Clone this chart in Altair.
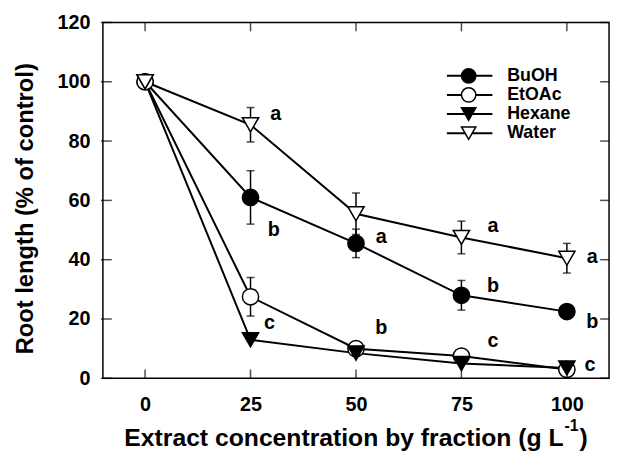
import altair as alt
import pandas as pd

# ---- data ----
conc = [0, 25, 50, 75, 100]
series_names = ["BuOH", "EtOAc", "Hexane", "Water"]
buoh = [100, 61, 45.5, 28, 22.5]
buoh_err = [0, 9, 4.8, 5, 0]
etoac = [100, 27.5, 10, 7.5, 3]
etoac_err = [0, 6.5, 0, 0, 0]
hexane = [100, 13, 8.5, 5, 3.5]
hexane_err = [0, 0, 0, 0, 0]
water = [100, 85.5, 55.5, 47.5, 40.5]
water_err = [0, 5.8, 7, 5.5, 5]

letter_text = ["a", "b", "c", "a", "b", "a", "b", "c", "a", "b", "c"]
letter_x = [31, 30.5, 29.5, 56, 56, 82.5, 82.5, 82.5, 106, 106, 105.5]
letter_y = [89, 50, 18.5, 47.5, 17, 51.5, 31, 12.5, 41, 19, 4.5]

y_ticks = [0, 20, 40, 60, 80, 100, 120]

# ---- build tables ----
rows = []
for name, vals, errs in zip(series_names, [buoh, etoac, hexane, water],
                            [buoh_err, etoac_err, hexane_err, water_err]):
    for c, v, e in zip(conc, vals, errs):
        rows.append(dict(series=name, conc=c, value=v, lo=v - e, hi=v + e, err=e))
df = pd.DataFrame(rows)
err_df = df[df.err > 0]
let_df = pd.DataFrame(dict(t=letter_text, x=letter_x, y=letter_y))

W, H = 512, 360
FONT = "Liberation Sans"

xscale = alt.Scale(domain=[-10, 110], nice=False, zero=False)
yscale = alt.Scale(domain=[0, 120], nice=False, zero=False)
shape_scale = alt.Scale(domain=series_names,
                        range=["circle", "circle", "triangle-down", "triangle-down"])
fill_scale = alt.Scale(domain=series_names, range=["black", "white", "black", "white"])

xaxis = alt.Axis(values=conc, title=None, labelPadding=17)
yaxis = alt.Axis(values=y_ticks, title="Root length (% of control)",
                 offset=7, labelPadding=6, titleX=-59, titleY=H / 2 + 8)


def X(field):
    return alt.X(field, scale=xscale, axis=xaxis)


def Y(field):
    return alt.Y(field, scale=yscale, axis=yaxis)


lines = alt.Chart(df).mark_line(color="black", strokeWidth=2).encode(
    x=X("conc:Q"), y=Y("value:Q"), detail="series:N")

err_rule = alt.Chart(err_df).mark_rule(color="black", strokeWidth=1.5).encode(
    x=X("conc:Q"), y=Y("lo:Q"), y2="hi:Q")
cap_hi = alt.Chart(err_df).mark_tick(orient="horizontal", size=8, thickness=1.5,
                                     color="black").encode(
    x=X("conc:Q"), y=Y("hi:Q"))
cap_lo = alt.Chart(err_df).mark_tick(orient="horizontal", size=8, thickness=1.5,
                                     color="black").encode(
    x=X("conc:Q"), y=Y("lo:Q"))

pts = alt.Chart(df).mark_point(filled=True, stroke="black", strokeWidth=1.5,
                               opacity=1, size=270).encode(
    x=X("conc:Q"), y=Y("value:Q"),
    shape=alt.Shape("series:N", scale=shape_scale, legend=None),
    fill=alt.Fill("series:N", scale=fill_scale, legend=None))

letters = alt.Chart(let_df).mark_text(font=FONT, fontWeight="bold", fontSize=20,
                                      color="black", baseline="middle",
                                      align="center").encode(
    x=X("x:Q"), y=Y("y:Q"), text="t:N")

# inward ticks on all four sides
xt = pd.DataFrame(dict(v=conc))
yt = pd.DataFrame(dict(v=y_ticks))
tick_b = alt.Chart(xt).mark_tick(orient="vertical", size=9, thickness=1.5,
                                 color="black").encode(
    x=X("v:Q"), y=alt.value(H - 4.5))
tick_t = alt.Chart(xt).mark_tick(orient="vertical", size=9, thickness=1.5,
                                 color="black").encode(
    x=X("v:Q"), y=alt.value(4.5))
tick_l = alt.Chart(yt).mark_tick(orient="horizontal", size=11, thickness=1.5,
                                 color="black").encode(
    y=Y("v:Q"), x=alt.value(3.5))
tick_r = alt.Chart(yt).mark_tick(orient="horizontal", size=9, thickness=1.5,
                                 color="black").encode(
    y=Y("v:Q"), x=alt.value(W - 4.5))

# x-axis title with superscript
t_size, s_size = 25, 16
main_title = "Extract concentration by fraction (g L"
x_end = 466
xt_main = alt.Chart(pd.DataFrame(dict(t=[main_title]))).mark_text(
    font=FONT, fontWeight="bold", fontSize=t_size, color="black",
    align="right", baseline="alphabetic").encode(
    text="t:N", x=alt.value(x_end), y=alt.value(H + 68))
xt_sup = alt.Chart(pd.DataFrame(dict(t=["-1"]))).mark_text(
    font=FONT, fontWeight="bold", fontSize=s_size, color="black",
    align="left", baseline="alphabetic").encode(
    text="t:N", x=alt.value(x_end + 1), y=alt.value(H + 53))
xt_par = alt.Chart(pd.DataFrame(dict(t=[")"]))).mark_text(
    font=FONT, fontWeight="bold", fontSize=t_size, color="black",
    align="left", baseline="alphabetic").encode(
    text="t:N", x=alt.value(x_end + 16), y=alt.value(H + 68))

main = alt.layer(lines, err_rule, cap_hi, cap_lo, pts, letters,
                 tick_b, tick_t, tick_l, tick_r, xt_main, xt_sup, xt_par)

# manual legend
leg_df = pd.DataFrame(dict(series=series_names, row=list(range(len(series_names)))))
LY = alt.Y("row:Q", scale=alt.Scale(domain=[0, 3], range=[54, 112], nice=False,
                                    zero=False), axis=None)
leg_rule = alt.Chart(leg_df).mark_rule(color="black", strokeWidth=2).encode(
    x=alt.value(348), x2=alt.value(394), y=LY)
leg_pt = alt.Chart(leg_df).mark_point(filled=True, stroke="black", strokeWidth=1.5,
                                      opacity=1, size=210).encode(
    x=alt.value(370), y=LY,
    shape=alt.Shape("series:N", scale=shape_scale, legend=None),
    fill=alt.Fill("series:N", scale=fill_scale, legend=None))
leg_txt = alt.Chart(leg_df).mark_text(font=FONT, fontWeight="bold", fontSize=18,
                                      color="black", align="left",
                                      baseline="middle").encode(
    x=alt.value(409), y=LY, text="series:N")
legend = alt.layer(leg_rule, leg_pt, leg_txt)

chart = alt.layer(main, legend).resolve_scale(y="independent").properties(
    width=W, height=H, autosize=alt.AutoSizeParams(type="none"),
    padding={"left": 96, "top": 12, "right": 4, "bottom": 80},
    background="white"
).configure_view(stroke="black", strokeWidth=1.5
).configure_axis(
    ticks=False, domain=False, grid=False,
    labelFont=FONT, labelFontWeight="bold", labelFontSize=20, labelColor="black",
    titleFont=FONT, titleFontWeight="bold", titleFontSize=24, titleColor="black"
)

chart.save("out.html", embed_options={"renderer": "svg", "actions": False})
